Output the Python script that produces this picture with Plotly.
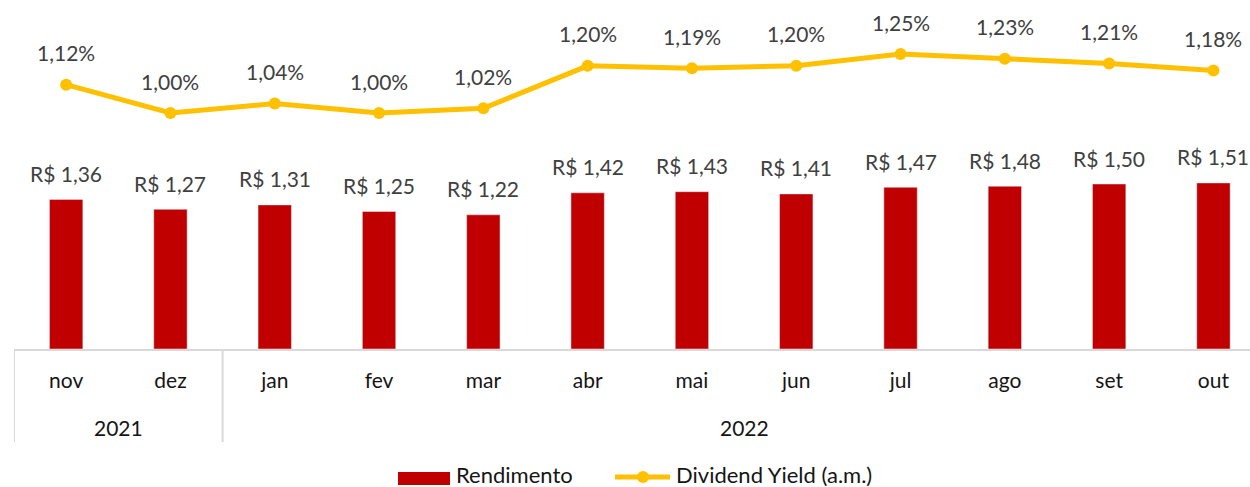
import plotly.graph_objects as go

months = ["nov", "dez", "jan", "fev", "mar", "abr", "mai", "jun", "jul", "ago", "set", "out"]
years = ["2021", "2022"]
year_spans = [(0, 1), (2, 11)]
rendimento = [1.36, 1.27, 1.31, 1.25, 1.22, 1.42, 1.43, 1.41, 1.47, 1.48, 1.50, 1.51]
dividend_yield = [1.12, 1.00, 1.04, 1.00, 1.02, 1.20, 1.19, 1.20, 1.25, 1.23, 1.21, 1.18]
series_names = ["Rendimento", "Dividend Yield (a.m.)"]

RED = "#C00000"
GOLD = "#FFC000"
LABEL = "#404040"
DARK = "#151515"
FONT = "Lato, 'Liberation Sans', sans-serif"

W, H = 1250, 487
ML, MR, MT, MB = 14, 0, 0, 138
PW, PH = W - ML - MR, H - MT - MB

def px(x):  # pixel -> paper x
    return (x - ML) / PW

def py(y):  # pixel -> paper y
    return (H - MB - y) / PH

def br(v, d=2):
    return f"{v:.{d}f}".replace(".", ",")

fig = go.Figure()
fig.add_trace(go.Bar(x=months, y=rendimento, name=series_names[0], marker_color=RED,
                     width=0.32, hoverinfo="skip", showlegend=False))
fig.add_trace(go.Scatter(x=months, y=dividend_yield, name=series_names[1], yaxis="y2",
                         mode="lines+markers", line=dict(color=GOLD, width=5),
                         marker=dict(color=GOLD, size=12), hoverinfo="skip", showlegend=False))

ann = []
for m, v in zip(months, rendimento):
    ann.append(dict(x=m, y=v, xref="x", yref="y", text="R$ " + br(v), showarrow=False,
                    yshift=26, font=dict(size=21, color=LABEL, family=FONT)))
for m, v in zip(months, dividend_yield):
    ann.append(dict(x=m, y=v, xref="x", yref="y2", text=br(v) + "%", showarrow=False,
                    yshift=32, font=dict(size=21, color=LABEL, family=FONT)))
for yr, (a, b) in zip(years, year_spans):
    ann.append(dict(x=(a + b) / 2, y=py(427), xref="x", yref="paper", text=yr, showarrow=False,
                    yanchor="middle", font=dict(size=21, color=DARK, family=FONT)))

shapes = []
bounds = [year_spans[0][0] - 0.5, year_spans[0][1] + 0.5]
for bx in bounds:
    shapes.append(dict(type="line", xref="x", yref="paper", x0=bx, x1=bx, y0=0, y1=py(442),
                       line=dict(color="#D9D9D9", width=2)))

# manual legend
shapes.append(dict(type="rect", xref="paper", yref="paper", x0=px(398), x1=px(450),
                   y0=py(472), y1=py(485), fillcolor=RED, line=dict(width=0)))
shapes.append(dict(type="line", xref="paper", yref="paper", x0=px(615), x1=px(670),
                   y0=py(477), y1=py(477), line=dict(color=GOLD, width=5)))
shapes.append(dict(type="circle", xref="paper", yref="paper", x0=px(637), x1=px(649),
                   y0=py(471), y1=py(483), fillcolor=GOLD, line=dict(width=0)))
ann.append(dict(x=px(454), y=py(474), xref="paper", yref="paper", text=series_names[0],
                showarrow=False, xanchor="left", yanchor="middle",
                font=dict(size=22, color=DARK, family=FONT)))
ann.append(dict(x=px(674), y=py(474), xref="paper", yref="paper", text=series_names[1],
                showarrow=False, xanchor="left", yanchor="middle",
                font=dict(size=22, color=DARK, family=FONT)))

cat_w = 104.3
fig.update_layout(
    width=W, height=H,
    margin=dict(l=ML, r=MR, t=MT, b=MB, autoexpand=False),
    paper_bgcolor="white", plot_bgcolor="white",
    font=dict(family=FONT, size=21, color=LABEL),
    showlegend=False,
    xaxis=dict(type="category", showline=True, linecolor="#D9D9D9", linewidth=2,
               ticks="", showgrid=False, ticklabelstandoff=12,
               tickfont=dict(size=21, color=DARK, family=FONT),
               range=[-0.5, -0.5 + PW / cat_w]),
    yaxis=dict(range=[0, 3.173], visible=False, showgrid=False),
    yaxis2=dict(range=[0, 1.479], overlaying="y", visible=False, showgrid=False),
    annotations=ann, shapes=shapes,
)

fig.write_html("out.html", config={"displayModeBar": False},
               post_script="document.body.style.margin='0';document.body.style.overflow='hidden';")
